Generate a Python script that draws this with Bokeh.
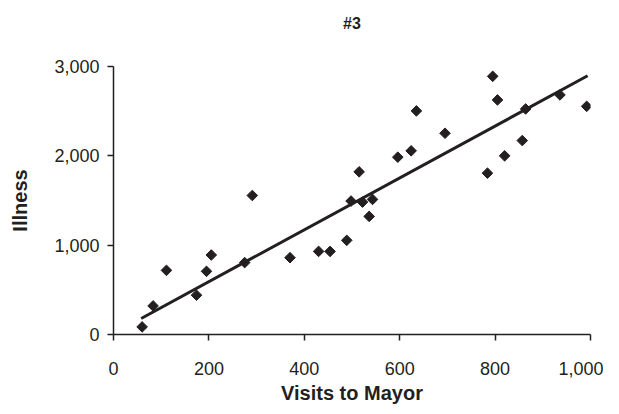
import numpy as np
from bokeh.plotting import figure
from bokeh.models import Range1d, FixedTicker, NumeralTickFormatter, Title
from bokeh.embed import file_html
from bokeh.resources import INLINE

title_text = "#3"
x_label = "Visits to Mayor"
y_label = "Illness"

visits = [60, 83, 111, 174, 195, 205, 275, 291, 370, 430, 454, 489, 498, 515, 522,
          536, 543, 596, 624, 635, 695, 784, 795, 805, 820, 857, 864, 936, 992]
illness = [85, 320, 718, 440, 707, 890, 805, 1556, 860, 930, 930, 1054, 1494, 1821, 1482,
           1322, 1512, 1985, 2056, 2503, 2253, 1806, 2890, 2626, 2000, 2171, 2525, 2682, 2554]

# trend line as drawn in the reference (end points)
trend_x = [58, 994]
trend_y = [179, 2897]

x_ticks = [0, 200, 400, 600, 800, 1000]
y_ticks = [0, 1000, 2000, 3000]

INK = "#231f20"
FONT = "Liberation Sans"

p = figure(width=603, height=406, output_backend="svg", toolbar_location=None,
           x_range=Range1d(0, 1000), y_range=Range1d(0, 3000),
           min_border_left=113, min_border_right=13, min_border_top=66, min_border_bottom=72)

# empty spacer panel between the frame and the title
p.add_layout(Title(text=" ", text_font=FONT, text_font_size="16px", standoff=16), "above")
p.add_layout(Title(text=title_text, text_font=FONT, text_font_style="bold",
                   text_font_size="16px", text_color=INK, align="center", standoff=0),
             "above")

p.outline_line_color = None
p.grid.visible = False

for ax in (p.xaxis[0], p.yaxis[0]):
    ax.axis_line_color = INK
    ax.axis_line_width = 1.5
    ax.major_tick_line_color = INK
    ax.major_tick_line_width = 1.5
    ax.major_tick_in = 0
    ax.major_tick_out = 6
    ax.minor_tick_line_color = None
    ax.major_label_text_font = FONT
    ax.major_label_text_font_size = "18px"
    ax.major_label_text_color = INK
    ax.axis_label_text_font = FONT
    ax.axis_label_text_font_style = "bold"
    ax.axis_label_text_font_size = "20px"
    ax.axis_label_text_color = INK
    ax.formatter = NumeralTickFormatter(format="0,0")

p.xaxis[0].ticker = FixedTicker(ticks=x_ticks)
p.yaxis[0].ticker = FixedTicker(ticks=y_ticks)
p.xaxis[0].axis_label = x_label
p.yaxis[0].axis_label = y_label
p.xaxis[0].major_label_standoff = 21
p.yaxis[0].major_label_standoff = 8
p.xaxis[0].axis_label_standoff = 4
p.yaxis[0].axis_label_standoff = 20

p.line(trend_x, trend_y, line_color=INK, line_width=3)

p.scatter(visits, illness, marker="square", angle=np.pi / 4, size=7.5,
          fill_color=INK, line_color=INK)

open("out.html", "w").write(file_html(p, INLINE))
